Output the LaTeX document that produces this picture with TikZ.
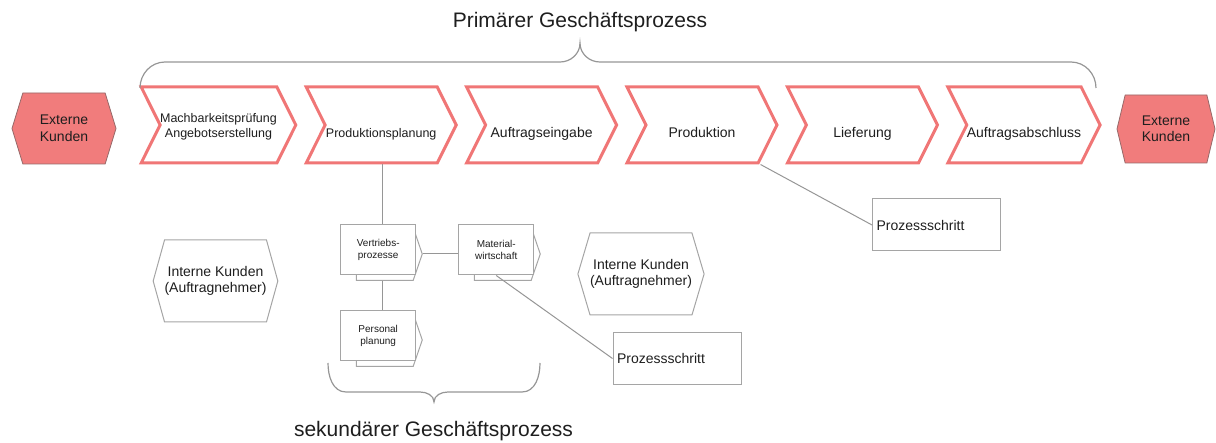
\documentclass[tikz,border=0pt]{standalone}
\usepackage{fontspec}
\setmainfont{Liberation Sans}
\usetikzlibrary{positioning,shapes.symbols,backgrounds}
\definecolor{chevred}{RGB}{240,118,118}
\definecolor{extfill}{RGB}{241,124,124}
\definecolor{extline}{RGB}{150,105,105}
\definecolor{linegrey}{RGB}{150,150,150}
\definecolor{boxgrey}{RGB}{165,165,165}
\definecolor{textgrey}{RGB}{30,30,30}

\begin{document}
\begin{tikzpicture}[x=1pt, y=1pt,
  node distance=26pt,
  chev/.style={signal, signal to=east, signal from=west, signal pointer angle=127,
               draw=chevred, line width=3pt, fill=white, text=textgrey,
               minimum width=150pt, minimum height=76pt, inner sep=0pt, align=center,
               text height=25pt, text depth=0pt, font=\fontsize{14}{17}\selectfont},
  chevsm/.style={chev, font=\fontsize{12.5}{14.5}\selectfont},
  kunde/.style={signal, signal to=west and east, inner sep=0pt, align=center,
                text=textgrey, font=\fontsize{14}{16.5}\selectfont},
  ext/.style={kunde, fill=extfill, draw=extline, line width=0.8pt},
  int/.style={kunde, fill=white, draw=boxgrey, line width=1pt},
  func/.style={rectangle, draw=boxgrey, fill=white, line width=1pt, text=textgrey,
               minimum width=75pt, minimum height=50pt, inner sep=0pt, align=center,
               font=\fontsize{10}{12.5}\selectfont},
  funcback/.style={signal, signal to=east, signal pointer angle=142, draw=boxgrey,
                   fill=white, line width=1pt, minimum width=66pt, minimum height=53pt},
  schritt/.style={rectangle, draw=boxgrey, line width=1pt, text=textgrey,
                  text width=120pt, align=left, inner sep=4pt, minimum height=52pt,
                  font=\fontsize{14}{16.5}\selectfont},
  conn/.style={draw=linegrey, line width=1pt},
  brace/.style={draw=linegrey, line width=1.2pt},
  heading/.style={text=textgrey, font=\fontsize{21}{25}\selectfont}
]
\useasboundingbox (0,0) rectangle (1216,-443);

% primary process
\node[heading, anchor=base] (prim) at (580,-28) {Primärer Geschäftsprozess};
\node[ext, signal pointer angle=146, minimum width=104pt, minimum height=71pt]
     (extl) at (64,-128.5) {Externe\\Kunden};
\node[chevsm] (mach) at (218.5,-125) {Machbarkeitsprüfung\\Angebotserstellung};
\node[chevsm, right=of mach] (plan) {Produktionsplanung};
\node[chev, right=of plan]   (eing) {Auftragseingabe};
\node[chev, right=of eing]   (prod) {Produktion};
\node[chev, right=of prod]   (lief) {Lieferung};
\node[chev, right=of lief]   (absc) {Auftragsabschluss};
\node[ext, signal pointer angle=153, minimum width=98pt, minimum height=68pt]
     (extr) at (1166,-129) {Externe\\Kunden};

% brace over the chain
\draw[brace] (140,-88) to[out=90,in=180] (165,-62) -- (560,-62)
  to[out=0,in=-90] (580,-43) to[out=-90,in=180] (600,-62) -- (1071,-62)
  to[out=0,in=90] (1096,-88);

% secondary process
\node[func, below=60pt of plan, xshift=-3pt] (vert) {Vertriebs-\\prozesse};
\node[func, right=42pt of vert] (mat)  {Material-\\wirtschaft};
\node[func, below=35pt of vert] (pers) {Personal\\planung};
\begin{scope}[on background layer]
  \node[funcback] (vertB) at ([xshift=6.5pt,yshift=-4pt]vert.center) {};
  \node[funcback] (matB)  at ([xshift=6.5pt,yshift=-4pt]mat.center) {};
  \node[funcback] (persB) at ([xshift=6.5pt,yshift=-4pt]pers.center) {};
\end{scope}

\node[int, signal pointer angle=149, minimum width=121pt, minimum height=82pt]
     (intl) at (215.5,-281) {Interne Kunden\\(Auftragnehmer)};
\node[int, signal pointer angle=147, minimum width=122pt, minimum height=82pt]
     (intr) at (641,-274) {Interne Kunden\\(Auftragnehmer)};

\node[schritt] (ps1) at (936.5,-225)  {Prozessschritt};
\node[schritt] (ps2) at (677,-358.5)  {Prozessschritt};

\draw[conn] ([xshift=4pt]vert.north |- plan.south) -- ([xshift=4pt]vert.north);
\draw[conn] ([xshift=4pt]vert.south |- vertB.south) -- ([xshift=4pt]pers.north);
\draw[conn] (vertB.east) -- (vertB.east -| mat.west);
\draw[conn] (mat.south) -- (ps2.west);
\draw[conn] ([xshift=58.5pt]prod.south) -- (ps1.west);

% brace under the secondary process
\draw[brace] (328,-363) to[out=-90,in=180] (346,-392) -- (420,-392)
  to[out=0,in=90] (434,-402) to[out=90,in=180] (448,-392) -- (522,-392)
  to[out=0,in=-90] (540,-363);
\node[heading, anchor=base] (sek) at (433.5,-437) {sekundärer Geschäftsprozess};

\end{tikzpicture}
\end{document}
